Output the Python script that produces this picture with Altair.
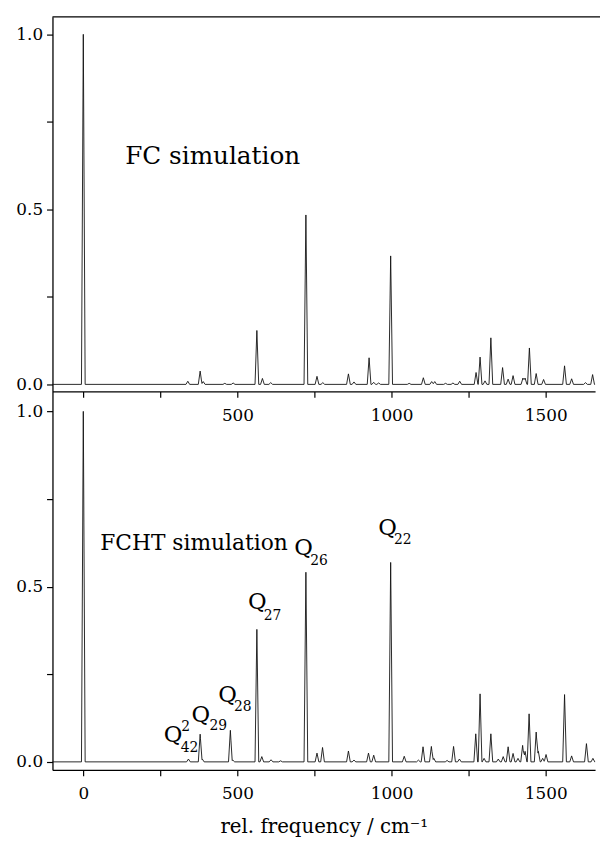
import altair as alt
import pandas as pd

# ---- data ----
# FC simulation: band positions (cm-1) and relative intensities
fc_pos = [0, 339, 379, 389, 459, 486, 563, 581, 608, 722, 758, 777, 860, 878, 927,
          942, 958, 997, 1057, 1103, 1130, 1140, 1175, 1199, 1221, 1274, 1287, 1303,
          1322, 1360, 1378, 1394, 1426, 1433, 1447, 1469, 1493, 1561, 1584, 1629, 1652]
fc_int = [1.0, 0.009, 0.038, 0.008, 0.003, 0.004, 0.154, 0.017, 0.005, 0.484, 0.023,
          0.005, 0.030, 0.007, 0.076, 0.006, 0.004, 0.367, 0.003, 0.019, 0.008, 0.008,
          0.003, 0.004, 0.009, 0.034, 0.078, 0.010, 0.133, 0.048, 0.015, 0.025, 0.018,
          0.018, 0.104, 0.031, 0.014, 0.053, 0.016, 0.005, 0.028]

# FCHT simulation
fcht_pos = [0, 341, 379, 386, 477, 485, 563, 579, 609, 640, 722, 758, 776, 860, 878,
            925, 942, 997, 1041, 1087, 1102, 1129, 1137, 1180, 1201, 1220, 1273, 1287,
            1300, 1322, 1346, 1362, 1378, 1394, 1410, 1425, 1433, 1446, 1469, 1476,
            1490, 1501, 1561, 1584, 1632, 1653]
fcht_int = [1.0, 0.008, 0.079, 0.008, 0.090, 0.005, 0.378, 0.015, 0.006, 0.003, 0.541,
            0.025, 0.041, 0.031, 0.005, 0.025, 0.019, 0.569, 0.016, 0.005, 0.043, 0.044,
            0.010, 0.004, 0.044, 0.008, 0.080, 0.194, 0.010, 0.080, 0.008, 0.015, 0.043,
            0.024, 0.010, 0.047, 0.030, 0.137, 0.085, 0.030, 0.010, 0.021, 0.192, 0.017,
            0.052, 0.010]

# mode labels (FCHT panel): text, position (cm-1), height
q_main_text = ["Q", "Q", "Q", "Q", "Q", "Q"]
q_main_x = [261, 351, 438, 534, 684, 957]
q_main_y = [0.057, 0.114, 0.170, 0.435, 0.591, 0.648]
q_sub_text = ["42", "29", "28", "27", "26", "22"]
q_sub_x = [316, 409, 489, 585, 736, 1008]
q_sub_y = [0.028, 0.091, 0.145, 0.406, 0.5625, 0.622]
q_sup_text = ["2"]
q_sup_x = [318]
q_sup_y = [0.087]

panel_titles = ["FC simulation", "FCHT simulation"]
title_x = [136, 55]
title_y = [0.629, 0.605]

x_ticks = [0, 250, 500, 750, 1000, 1250, 1500]
y_ticks = [0, 0.25, 0.5, 0.75, 1.0]

X_MIN, X_MAX = -100, 1660
HALF_WIDTH = 6  # band half width at base (cm-1)


def profile(pos, inten):
    xs = {X_MIN, X_MAX}
    for p in pos:
        xs.update([p - HALF_WIDTH, p, p + HALF_WIDTH])
    xs = sorted(x for x in xs if X_MIN <= x <= X_MAX)
    ys = []
    for x in xs:
        s = 0.0
        for p, h in zip(pos, inten):
            d = abs(x - p)
            if d < HALF_WIDTH:
                s += h * (1 - d / HALF_WIDTH)
        ys.append(s)
    return pd.DataFrame({"freq": xs, "I": ys})


FONT = "DejaVu Serif"
W = 549
H_TOP = 379
H_BOT = 383

xscale = alt.Scale(domain=[X_MIN, X_MAX], nice=False, zero=False)
yscale_top = alt.Scale(domain=[-0.020, 1.050], nice=False, zero=False)
yscale_bot = alt.Scale(domain=[-0.023, 1.057], nice=False, zero=False)

yaxis = alt.Axis(values=y_ticks, format=".1f", title=None,
                 labelExpr="datum.value == 0.25 || datum.value == 0.75 ? '' : datum.label")


def xaxis(show_zero, title):
    expr = ("datum.value % 500 == 0 ? datum.label : ''" if show_zero
            else "datum.value % 500 == 0 && datum.value != 0 ? datum.label : ''")
    kw = dict(values=x_ticks, format="d", labelExpr=expr, labelFlush=False)
    if title is not None:
        kw["title"] = title
    else:
        kw["title"] = None
    return alt.Axis(**kw)


def line_chart(df, yscale, axis_x):
    return alt.Chart(df).mark_line(color="#111111", strokeWidth=0.9).encode(
        x=alt.X("freq:Q", scale=xscale, axis=axis_x),
        y=alt.Y("I:Q", scale=yscale, axis=yaxis),
    )


def text_layer(texts, xs, ys, yscale, size):
    df = pd.DataFrame({"t": texts, "fx": xs, "fy": ys})
    return alt.Chart(df).mark_text(align="left", baseline="alphabetic", font=FONT,
                                   fontSize=size, color="black").encode(
        x=alt.X("fx:Q", scale=xscale),
        y=alt.Y("fy:Q", scale=yscale),
        text="t:N",
    )


top_line = line_chart(profile(fc_pos, fc_int), yscale_top, xaxis(False, None))
top_title = text_layer([panel_titles[0]], [title_x[0]], [title_y[0]], yscale_top, 25)
top_border = alt.Chart(pd.DataFrame({"k": [0]})).mark_rule(
    color="black", strokeWidth=1.3).encode(
    x=alt.value(0), x2=alt.value(W + 5), y=alt.value(0))
top = alt.layer(top_line, top_title, top_border).properties(width=W, height=H_TOP)

bot_line = line_chart(profile(fcht_pos, fcht_int), yscale_bot,
                      xaxis(True, "rel. frequency / cm\u207b\u00b9"))
bot_title = text_layer([panel_titles[1]], [title_x[1]], [title_y[1]], yscale_bot, 22)
q_main = text_layer(q_main_text, q_main_x, q_main_y, yscale_bot, 23)
q_sub = text_layer(q_sub_text, q_sub_x, q_sub_y, yscale_bot, 14)
q_sup = text_layer(q_sup_text, q_sup_x, q_sup_y, yscale_bot, 14)
bottom = alt.layer(bot_line, bot_title, q_main, q_sub, q_sup).properties(
    width=W, height=H_BOT)

chart = alt.vconcat(top, bottom, spacing=0, bounds="flush").properties(
    padding={"top": 3, "left": 7, "right": 0, "bottom": 0}
).configure_view(stroke=None).configure_axis(
    grid=False,
    domainColor="black", domainWidth=1.3,
    tickColor="black", tickSize=6, tickWidth=1.2,
    labelFont=FONT, labelFontSize=17, labelColor="black",
    titleFont=FONT, titleFontSize=20, titleFontWeight="normal", titleColor="black",
).configure_axisX(labelPadding=10, titlePadding=15).configure_axisY(labelPadding=4)

chart.save("out.html", embed_options={"renderer": "svg", "actions": False})
